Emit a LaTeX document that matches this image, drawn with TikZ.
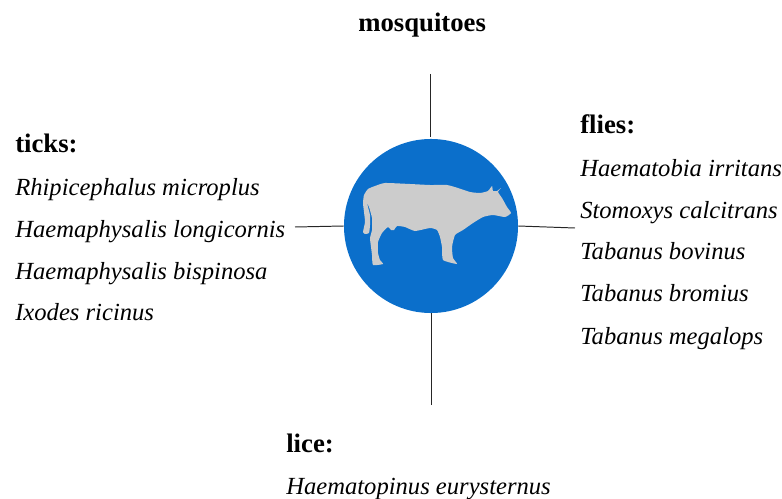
\documentclass[tikz,border=0pt]{standalone}
\usepackage{fontspec}
\setmainfont{Liberation Serif}
\usepackage{tikz}
\usetikzlibrary{positioning, calc, shapes}
\definecolor{discblue}{HTML}{0B6FCB}
\definecolor{cowgray}{HTML}{CCCCCC}

\begin{document}
\begin{tikzpicture}[
    x=0.025cm, y=-0.025cm,
    group/.style={inner sep=0pt, anchor=base west, font=\fontsize{19}{22}\selectfont\bfseries},
    species/.style={inner sep=0pt, anchor=base west, font=\fontsize{17.5}{20}\selectfont\itshape},
    link/.style={draw=black!85, line width=0.7pt}
]
    \useasboundingbox (0, 0) rectangle (782, 499);

    \node[circle, fill=discblue, minimum size=4.35cm, inner sep=0pt] (herd) at (431, 226) {};

    % cow outline, traced
    \fill[cowgray] plot[smooth cycle, tension=0.3] coordinates {
        (385, 183) (375, 186) (368, 189) (364, 195) (363, 203) (364, 212) (365, 222) (363, 232)
        (365, 234) (369, 233) (370, 225) (370, 215) (367, 203) (369, 207) (372, 218) (372, 230)
        (370, 238) (371, 247) (372, 255) (373, 265) (383, 264) (380, 260) (378, 253) (378, 242)
        (382, 233) (388, 227) (391, 230) (394, 230) (397, 226) (405, 227) (415, 231) (430, 228)
        (437, 230) (440, 237) (442, 247) (443, 260) (457, 264) (453, 258) (452, 247) (455, 235)
        (463, 230) (473, 223) (483, 217) (493, 215) (505, 217) (511, 213) (507, 207) (502, 198)
        (498, 192) (501, 188) (497, 191) (493, 191) (492, 186) (488, 191) (480, 193) (470, 192)
        (458, 188) (447, 185) (430, 185) (410, 184)
    };

    \node[group] (mosquitoes) at (358, 32) {mosquitoes};

    \node[group] (ticks) at (15, 152) {ticks:};
    \node[species] (microplus) at (15, 195) {Rhipicephalus microplus};
    \node[species] (longicornis) at (15, 237) {Haemaphysalis longicornis};
    \node[species] (bispinosa) at (15, 279) {Haemaphysalis bispinosa};
    \node[species] (ricinus) at (15, 320) {Ixodes ricinus};

    \node[group] (flies) at (580, 133) {flies:};
    \node[species] (irritans) at (580, 176) {Haematobia irritans};
    \node[species] (calcitrans) at (580, 218) {Stomoxys calcitrans};
    \node[species] (bovinus) at (580, 259) {Tabanus bovinus};
    \node[species] (bromius) at (580, 301) {Tabanus bromius};
    \node[species] (megalops) at (580, 344) {Tabanus megalops};

    \node[group] (lice) at (286, 452) {lice:};
    \node[species] (eurysternus) at (286, 494) {Haematopinus eurysternus};

    \coordinate (topend) at (430, 74);
    \coordinate (topgap) at (430, 137);
    \coordinate (leftend) at (295, 227);
    \coordinate (rightend) at (575, 228);
    \coordinate (bottomend) at (431, 405);

    \draw[link] (topend) -- (topgap);
    \draw[link] (leftend) -- (herd.west);
    \draw[link] (rightend) -- (herd.east);
    \draw[link] (bottomend) -- (herd.south);
\end{tikzpicture}
\end{document}
